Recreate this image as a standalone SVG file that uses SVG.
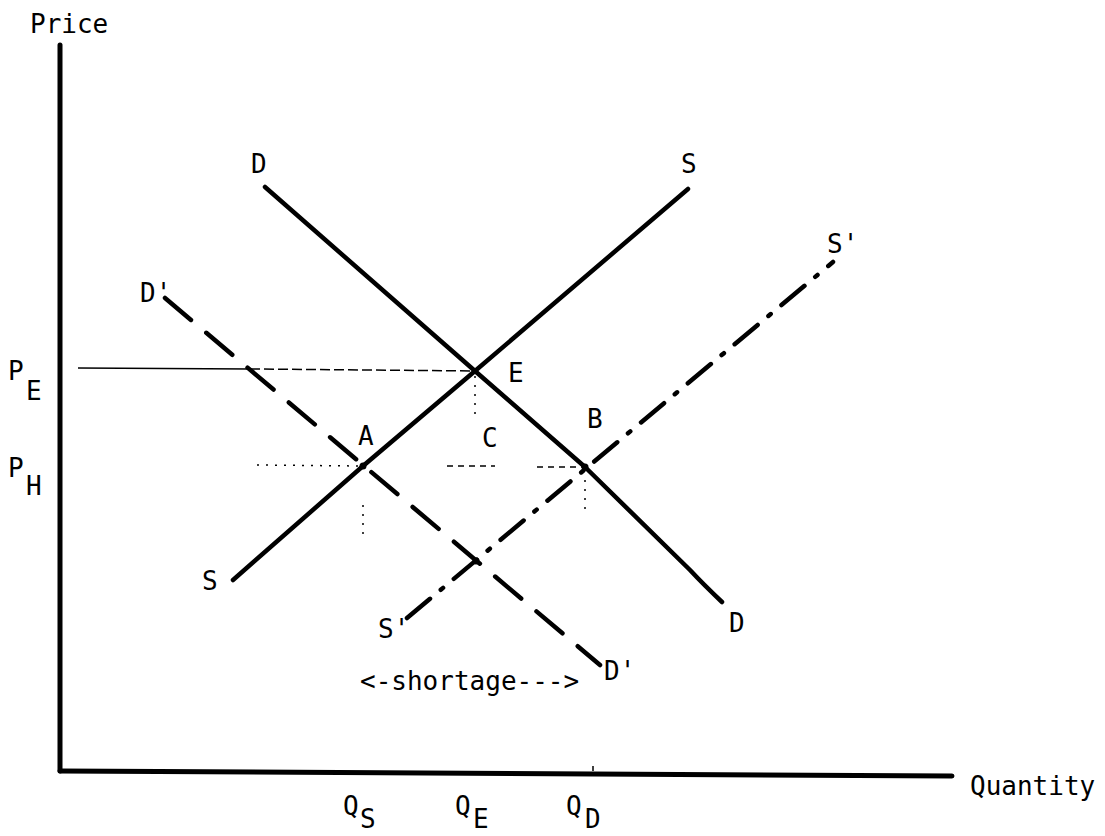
<svg xmlns="http://www.w3.org/2000/svg" width="1105" height="836" viewBox="0 0 1105 836">
<style>
text{font-family:"DejaVu Sans Mono","Liberation Mono",monospace;font-size:26px;fill:#000}
.curve{fill:none;stroke:#000;stroke-width:4.5;stroke-linecap:round;stroke-linejoin:round}
.axis{fill:none;stroke:#000;stroke-width:5;stroke-linecap:round}
.thin{fill:none;stroke:#000;stroke-width:1.5}
.dot{fill:none;stroke:#000;stroke-width:1.5;stroke-dasharray:2 7}
.dash{fill:none;stroke:#000;stroke-width:1.5;stroke-dasharray:6 5}
</style>
<rect width="1105" height="836" fill="#fff"/>
<g id="axes">
<line class="axis" x1="60" y1="45" x2="60" y2="771"/>
<line class="axis" x1="60" y1="771" x2="952" y2="776"/>
<text x="30" y="33">Price</text>
<text x="970" y="795">Quantity</text>
</g>
<g id="guides">
<line class="thin" x1="78" y1="368" x2="250" y2="369"/>
<line class="thin" x1="250" y1="369" x2="475" y2="371" stroke-dasharray="10 4"/>
<line class="dot" x1="257" y1="465" x2="360" y2="466"/>
<line class="dash" x1="447" y1="466" x2="495" y2="466"/>
<line class="dash" x1="537" y1="467" x2="582" y2="467"/>
<line class="dot" x1="475" y1="376" x2="475" y2="416"/>
<line class="dot" x1="363" y1="505" x2="363" y2="536"/>
<line class="dot" x1="585" y1="480" x2="585" y2="516"/>
<line class="thin" x1="593" y1="766" x2="593" y2="771"/>
</g>
<g id="connectors">
<path id="demand-D" class="curve" d="M265,187 L475,371 L585,467 L690,570 Q703,584 722,602"/>
<path id="supply-S" class="curve" d="M233,580 L363,466 L475,371 L688,189"/>
<path id="demand-D2" class="curve" d="M165,298 L600,665" stroke-dasharray="34 20"/>
<path id="supply-S2" class="curve" d="M407,618 L833,262" stroke-dasharray="30 14 3 14"/>
</g>
<g id="points">
<circle cx="363" cy="466" r="3.5"/>
<circle cx="475" cy="371" r="3"/>
<circle cx="585" cy="467" r="3.5"/>
<circle cx="476" cy="561" r="3.5"/>
</g>
<g id="labels">
<text x="251" y="173">D</text>
<text x="681" y="173">S</text>
<text x="140" y="302">D'</text>
<text x="827" y="253">S'</text>
<text x="8" y="380">P</text><text x="26" y="400">E</text>
<text x="8" y="477">P</text><text x="26" y="495">H</text>
<text x="358" y="445">A</text>
<text x="508" y="382">E</text>
<text x="482" y="447">C</text>
<text x="587" y="428">B</text>
<text x="202" y="590">S</text>
<text x="378" y="638">S'</text>
<text x="729" y="632">D</text>
<text x="604" y="680">D'</text>
<text x="360" y="690">&lt;-shortage---&gt;</text>
<text x="343" y="815">Q</text><text x="360" y="828">S</text>
<text x="455" y="815">Q</text><text x="473" y="828">E</text>
<text x="566" y="815">Q</text><text x="585" y="828">D</text>
</g>
</svg>
